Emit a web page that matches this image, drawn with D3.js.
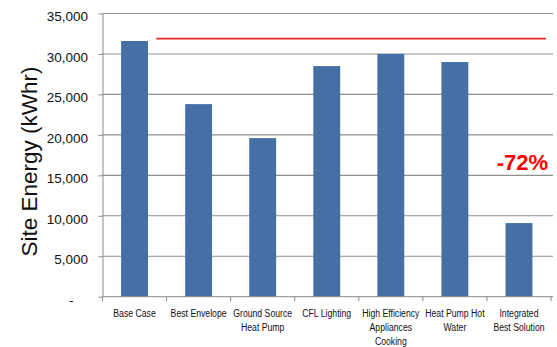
<!DOCTYPE html>
<html><head><meta charset="utf-8">
<script src="https://cdn.jsdelivr.net/npm/d3@7"></script>
<style>
body{margin:0;background:#fff;}
svg{display:block;font-family:"Liberation Sans",Arial,sans-serif;}
</style></head>
<body>
<svg id="chart" width="557" height="347"></svg>
<script>
const categories = ["Base Case","Best Envelope","Ground Source|Heat Pump","CFL Lighting","High Efficiency|Appliances|Cooking","Heat Pump Hot|Water","Integrated|Best Solution"];
const values = [31600, 23800, 19600, 28500, 30000, 29000, 9100];
const yTicks = [0, 5000, 10000, 15000, 20000, 25000, 30000, 35000];
const baselineRef = 31900;
const reductionLabel = "-72%";
const yTitle = "Site Energy (kWhr)";

(function () {
const svg = d3.select("#chart");
const mLeft = 102.5, mRight = 551, mTop = 13.5, mBottom = 296.7;

const x = d3.scaleBand().domain(categories).range([mLeft, mRight]).paddingInner(0.58).paddingOuter(0.29);
const y = d3.scaleLinear().domain([0, 35000]).range([mBottom, mTop]);

// gridlines
svg.append("g").selectAll("line").data(yTicks.filter(d => d > 0)).join("line")
  .attr("x1", mLeft).attr("x2", 553)
  .attr("y1", d => y(d)).attr("y2", d => y(d))
  .attr("stroke", "#8f8f8f").attr("stroke-width", 1.1);

// bars
svg.append("g").selectAll("rect").data(values).join("rect")
  .attr("x", (d, i) => x(categories[i]))
  .attr("width", x.bandwidth())
  .attr("y", d => y(d))
  .attr("height", d => y(0) - y(d))
  .attr("fill", "#4570a6");

// y axis
const yAxis = d3.axisLeft(y).tickValues(yTicks).tickSize(4).tickSizeOuter(0)
  .tickFormat(d => d === 0 ? "-" : d3.format(",")(d));
const gy = svg.append("g").attr("transform", `translate(${mLeft},0)`).call(yAxis);
gy.select(".domain").attr("stroke", "#8a8a8a");
gy.selectAll(".tick line").attr("stroke", "#8a8a8a");
gy.selectAll(".tick text").attr("x", -14.5).attr("dy", "0.55em")
  .attr("font-size", "13.5px").attr("fill", "#111").attr("font-family", "Liberation Sans, Arial, sans-serif");
gy.selectAll(".tick text").filter(d => d === 0).attr("x", -29).attr("dy", "0.6em");

// x axis
const xAxis = d3.axisBottom(x).tickSize(0).tickFormat("");
const gx = svg.append("g").attr("transform", `translate(0,${mBottom})`).call(xAxis);
gx.select(".domain").attr("stroke", "#8a8a8a").attr("d", `M${mLeft},0H553`);
const bounds = categories.map(c => x(c) - x.step() * x.paddingOuter()).concat([mRight]);
gx.append("g").selectAll("line").data(bounds).join("line")
  .attr("x1", d => d).attr("x2", d => d).attr("y1", 0).attr("y2", 4.5)
  .attr("stroke", "#8a8a8a");

// x labels
const labels = svg.append("g");
categories.forEach(c => {
  const cx = x(c) + x.bandwidth() / 2;
  const t = labels.append("text")
    .attr("transform", `translate(${cx},316.5) scale(0.79,1)`)
    .attr("text-anchor", "middle").attr("font-size", "11px").attr("fill", "#111");
  c.split("|").forEach((line, i) => {
    t.append("tspan").attr("x", 0).attr("y", i * 14.5).text(line);
  });
});

// y title
svg.append("text")
  .attr("transform", `translate(37,161.5) rotate(-90)`)
  .attr("text-anchor", "middle").attr("font-size", "22.5px").attr("fill", "#111")
  .text(yTitle);

// reference line
svg.append("line")
  .attr("x1", x(categories[0]) + x.bandwidth() + x.step() * 0.13)
  .attr("x2", mRight - x.step() * 0.08)
  .attr("y1", y(baselineRef)).attr("y2", y(baselineRef))
  .attr("stroke", "#e3231f").attr("stroke-width", 1.6);

// reduction label
svg.append("text")
  .attr("x", x(categories[6]) + x.bandwidth() / 2 + 3.5)
  .attr("y", 169.5)
  .attr("text-anchor", "middle").attr("font-size", "22px").attr("font-weight", "bold")
  .attr("fill", "#ff0000").text(reductionLabel);
})();
</script>
</body></html>
